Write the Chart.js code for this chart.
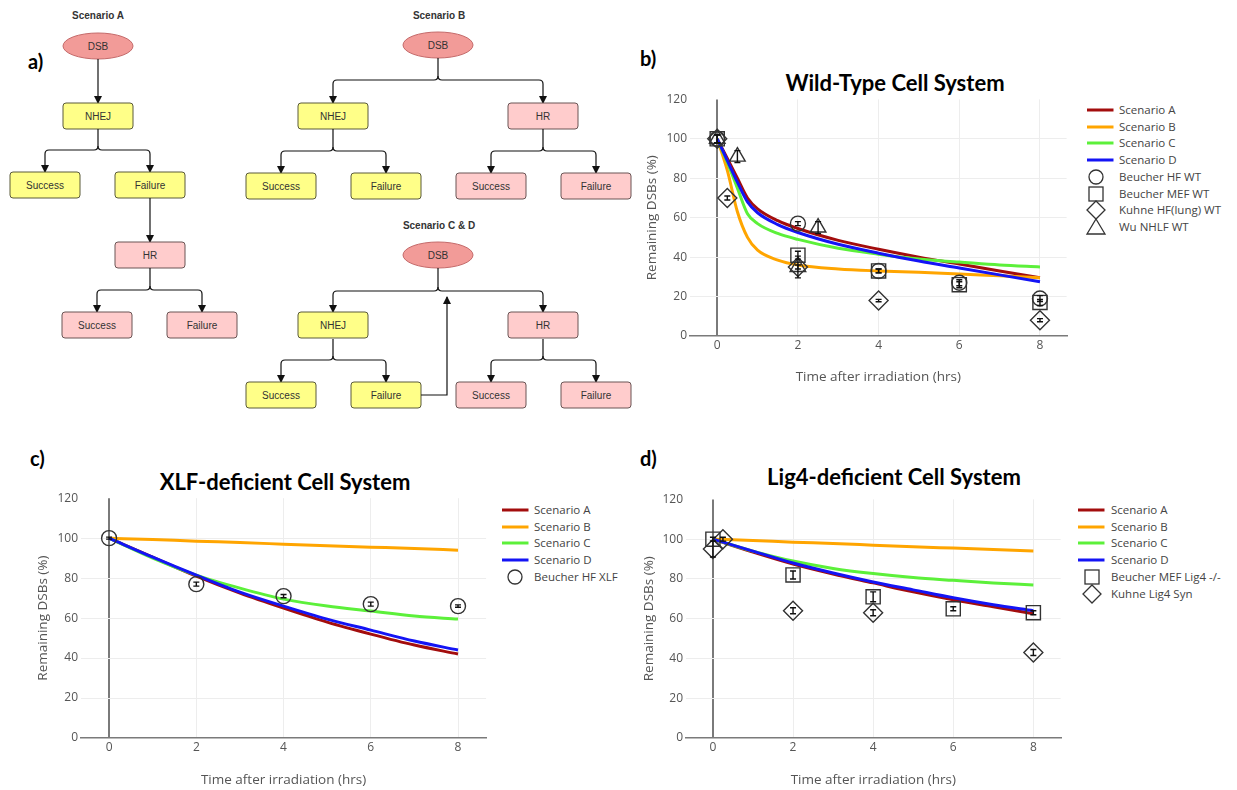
<!DOCTYPE html>
<html>
<head>
<meta charset="utf-8">
<script src="https://cdn.jsdelivr.net/npm/chart.js@4.4.1/dist/chart.umd.min.js"></script>
<style>
  body { margin: 0; background: #fff; }
  #page { position: relative; width: 1237px; height: 790px; overflow: hidden; font-family: "Open Sans", sans-serif; }
  .abs { position: absolute; }
  .panel { font-family: Lato, sans-serif; font-weight: 700; font-size: 20px; line-height: 24px; color: #000; }
  .title { font-family: Lato, sans-serif; font-weight: 700; font-size: 22px; line-height: 26px; text-align: center; width: 400px; color: #000; }
  .leg { font-size: 11.5px; color: #444; line-height: 16px; height: 16px; white-space: nowrap; }
  .leg svg { position: absolute; left: 0; top: 0; }
</style>
</head>
<body>
<div id="page">
  <svg id="flow" class="abs" style="left:0;top:0" width="640" height="420"></svg>

  <div class="abs panel" style="left:28px;top:49px">a)</div>
  <div class="abs panel" style="left:640px;top:46px">b)</div>
  <div class="abs panel" style="left:30px;top:446px">c)</div>
  <div class="abs panel" style="left:640px;top:446px">d)</div>

  <div class="abs title" style="left:695px;top:70px">Wild-Type Cell System</div>
  <div class="abs title" style="left:85px;top:469px">XLF-deficient Cell System</div>
  <div class="abs title" style="left:694px;top:464px">Lig4-deficient Cell System</div>

  <canvas id="chartWT" class="abs" style="left:636px;top:88px" width="442" height="302"></canvas>
  <canvas id="chartXLF" class="abs" style="left:28px;top:488px" width="467" height="302"></canvas>
  <canvas id="chartLig4" class="abs" style="left:634px;top:488px" width="438" height="302"></canvas>
</div>

<script>
// ---- data ----
const xTicks = [0, 2, 4, 6, 8];
const yTicks = [0, 20, 40, 60, 80, 100, 120];

// Wild-type model curves
const wtTime = [0, 0.25, 0.5, 0.75, 1, 1.5, 2, 3, 4, 5, 6, 7, 8];
const wtScenarioA = [100, 90, 80, 70, 64.5, 58.5, 54.5, 48.5, 44, 40, 36.5, 33, 29.5];
const wtScenarioB = [100, 84, 63, 50, 43.5, 38.5, 36, 34, 33, 32.3, 31.5, 30.5, 29.5];
const wtScenarioC = [100, 88, 75, 62, 57, 52, 49, 44.5, 41.5, 39, 37.5, 36, 35];
const wtScenarioD = [100, 89, 78, 68, 62.5, 56.5, 52.5, 46.5, 42, 38, 34.5, 31, 27.5];

// Wild-type experiments
const beucherHFTime = [0, 2, 4, 6, 8];
const beucherHFWT = [100, 57, 33, 27, 19];
const beucherHFWTErr = [2, 1, 1, 1.5, 1.5];
const beucherMEFTime = [0, 2, 4, 6, 8];
const beucherMEFWT = [100, 41, 33, 26, 17];
const beucherMEFWTErr = [2, 2, 1, 1.5, 1.5];
const kuhneHFTime = [0, 0.25, 2, 4, 8];
const kuhneHFWT = [100, 70, 35, 18, 8];
const kuhneHFWTErr = [2, 1, 1, 0.6, 0.8];
const wuNHLFTime = [0, 0.5, 2, 2.5];
const wuNHLFWT = [100, 91, 35, 55];
const wuNHLFWTErr = [2, 3, 5.5, 3];

// XLF-deficient model curves
const defTime = [0, 1, 2, 3, 4, 5, 6, 7, 8];
const xlfScenarioA = [100, 90.5, 81, 72.5, 65, 58, 52, 46.5, 42];
const xlfScenarioB = [100, 99.3, 98.5, 97.8, 97, 96.2, 95.5, 94.8, 94];
const xlfScenarioC = [100, 90, 81.5, 75, 69.5, 66, 63.5, 61, 59.5];
const xlfScenarioD = [100, 90.5, 81.5, 73, 66, 59.5, 54, 48.5, 44];
const beucherXLFTime = [0, 2, 4, 6, 8];
const beucherHFXLF = [100, 77, 71, 67, 66];
const beucherHFXLFErr = [0.5, 1, 0.8, 1, 0.6];

// Lig4-deficient model curves
const lig4ScenarioA = [100, 93.5, 87.5, 82.5, 78, 73.5, 69.5, 66, 62.5];
const lig4ScenarioB = [100, 99.3, 98.5, 97.8, 97, 96.2, 95.5, 94.8, 94];
const lig4ScenarioC = [100, 94, 89, 85.3, 82.7, 80.7, 79.3, 78, 77];
const lig4ScenarioD = [100, 94, 88, 83, 78.5, 74.5, 70.5, 67, 64];
const beucherLig4Time = [0, 2, 4, 6, 8];
const beucherMEFLig4 = [100, 82, 71, 65, 63];
const beucherMEFLig4Err = [1, 2, 2.5, 1, 1];
const kuhneLig4Time = [0, 0.25, 2, 4, 8];
const kuhneLig4Syn = [95, 100, 64, 63, 43];
const kuhneLig4SynErr = [4, 1, 1.5, 1.5, 1.5];

const colA = '#a30d0d', colB = '#ffa500', colC = '#5cf03a', colD = '#1414f5';

// ---- flowchart (panel a) ----
const flow = document.getElementById('flow');
let svg = '<defs><marker id="ah" markerWidth="8" markerHeight="8" refX="7" refY="4" orient="auto" markerUnits="userSpaceOnUse">' +
  '<path d="M0,0 L8,4 L0,8 z" fill="#111"/></marker></defs>';

function box(x, y, text, kind) {
  const fill = kind === 'y' ? '#ffff88' : '#ffcccc';
  const stroke = kind === 'y' ? '#5a5a3a' : '#6a5555';
  svg += `<rect x="${x}" y="${y}" width="70" height="26" rx="3" fill="${fill}" stroke="${stroke}" stroke-width="1"/>`;
  svg += `<text x="${x + 35}" y="${y + 16.5}" text-anchor="middle" font-family="Liberation Sans, Arial" font-size="10" fill="#333">${text}</text>`;
}
function dsb(cx, cy) {
  svg += `<ellipse cx="${cx}" cy="${cy}" rx="35" ry="13" fill="#f29b98" stroke="#c46a6a" stroke-width="1"/>`;
  svg += `<text x="${cx}" y="${cy + 3.5}" text-anchor="middle" font-family="Liberation Sans, Arial" font-size="10" fill="#333">DSB</text>`;
}
function label(cx, y, text) {
  svg += `<text x="${cx}" y="${y}" text-anchor="middle" font-family="Liberation Sans, Arial" font-size="10" font-weight="bold" fill="#333">${text}</text>`;
}
function arrow(x, y1, y2) {
  svg += `<path d="M${x} ${y1} V${y2}" stroke="#111" stroke-width="1.2" fill="none" marker-end="url(#ah)"/>`;
}
// a parent splitting into two children through a rounded bus line
function split(px, py, busY, left, right, top) {
  const r = 4;
  svg += `<path d="M${px} ${py} V${busY - r} Q${px} ${busY} ${px - r} ${busY} H${left + r} Q${left} ${busY} ${left} ${busY + r} V${top}" stroke="#111" stroke-width="1.2" fill="none" marker-end="url(#ah)"/>`;
  svg += `<path d="M${px} ${busY - r} Q${px} ${busY} ${px + r} ${busY} H${right - r} Q${right} ${busY} ${right} ${busY + r} V${top}" stroke="#111" stroke-width="1.2" fill="none" marker-end="url(#ah)"/>`;
}

// Scenario A
label(98, 19, 'Scenario A');
dsb(98, 46);
arrow(98, 59, 103);
box(63, 103, 'NHEJ', 'y');
split(98, 129, 150, 45, 150, 172);
box(10, 172, 'Success', 'y');
box(115, 172, 'Failure', 'y');
arrow(150, 198, 242);
box(115, 242, 'HR', 'p');
split(150, 268, 290, 97, 202, 312);
box(62, 312, 'Success', 'p');
box(167, 312, 'Failure', 'p');

// Scenario B
label(439, 19, 'Scenario B');
dsb(438, 45);
split(438, 58, 80, 333, 543, 103);
box(298, 103, 'NHEJ', 'y');
box(508, 103, 'HR', 'p');
split(333, 129, 151, 281, 386, 173);
split(543, 129, 151, 491, 596, 173);
box(246, 173, 'Success', 'y');
box(351, 173, 'Failure', 'y');
box(456, 173, 'Success', 'p');
box(561, 173, 'Failure', 'p');

// Scenario C & D
label(439, 229, 'Scenario C &amp; D');
dsb(438, 255);
split(438, 268, 291, 333, 543, 312);
box(298, 312, 'NHEJ', 'y');
box(508, 312, 'HR', 'p');
split(333, 339, 360, 281, 386, 382);
split(543, 339, 360, 491, 596, 382);
box(246, 382, 'Success', 'y');
box(351, 382, 'Failure', 'y');
box(456, 382, 'Success', 'p');
box(561, 382, 'Failure', 'p');
svg += '<path d="M421 395 H447 V297" stroke="#111" stroke-width="1.2" fill="none" marker-end="url(#ah)"/>';
flow.innerHTML = svg;

// ---- legends ----
function legend(left, textLeft, markerX, top, items) {
  const page = document.getElementById('page');
  items.forEach((it, i) => {
    const row = document.createElement('div');
    row.className = 'abs leg';
    row.style.left = left + 'px';
    row.style.top = (top + i * 16.7 - 8) + 'px';
    const w = textLeft - left;
    let icon = '';
    const mx = markerX - left;
    if (it.color) icon = `<line x1="0" y1="8" x2="26.5" y2="8" stroke="${it.color}" stroke-width="3"/>`;
    else if (it.marker === 'circle') icon = `<circle cx="${mx}" cy="8" r="7" fill="none" stroke="#333" stroke-width="1.3"/>`;
    else if (it.marker === 'square') icon = `<rect x="${mx - 7}" y="1" width="14" height="14" fill="none" stroke="#333" stroke-width="1.3"/>`;
    else if (it.marker === 'diamond') icon = `<path d="M${mx} -1 L${mx + 9} 8 L${mx} 17 L${mx - 9} 8 z" fill="none" stroke="#333" stroke-width="1.3"/>`;
    else if (it.marker === 'triangle') icon = `<path d="M${mx} 0 L${mx + 9} 15 L${mx - 9} 15 z" fill="none" stroke="#333" stroke-width="1.3"/>`;
    row.innerHTML = `<svg width="${w}" height="18" style="overflow:visible">${icon}</svg><span style="margin-left:${w}px">${it.label}</span>`;
    page.appendChild(row);
  });
}
const scenarioItems = [
  { label: 'Scenario A', color: colA },
  { label: 'Scenario B', color: colB },
  { label: 'Scenario C', color: colC },
  { label: 'Scenario D', color: colD }
];
legend(1087, 1119, 1096, 110, scenarioItems.concat([
  { label: 'Beucher HF WT', marker: 'circle' },
  { label: 'Beucher MEF WT', marker: 'square' },
  { label: 'Kuhne HF(lung) WT', marker: 'diamond' },
  { label: 'Wu NHLF WT', marker: 'triangle' }
]));
legend(502, 534, 515, 510, scenarioItems.concat([
  { label: 'Beucher HF XLF', marker: 'circle' }
]));
legend(1078, 1111, 1092, 510, scenarioItems.concat([
  { label: 'Beucher MEF Lig4 -/-', marker: 'square' },
  { label: 'Kuhne Lig4 Syn', marker: 'diamond' }
]));

// ---- charts ----
const errorBars = {
  id: 'errorBars',
  afterDatasetsDraw(chart) {
    const ctx = chart.ctx, xs = chart.scales.x, ys = chart.scales.y;
    chart.data.datasets.forEach((ds, i) => {
      if (!ds.errors) return;
      ctx.save();
      ctx.strokeStyle = '#111';
      ctx.lineWidth = 1.4;
      ds.data.forEach((p, j) => {
        const e = ds.errors[j];
        const px = xs.getPixelForValue(p.x);
        const top = ys.getPixelForValue(p.y + e), bot = ys.getPixelForValue(p.y - e);
        ctx.beginPath();
        ctx.moveTo(px, top); ctx.lineTo(px, bot);
        ctx.moveTo(px - 3, top); ctx.lineTo(px + 3, top);
        ctx.moveTo(px - 3, bot); ctx.lineTo(px + 3, bot);
        ctx.stroke();
      });
      ctx.restore();
    });
  }
};

function pts(xs, ys) {
  return xs.map((x, i) => ({ x: x, y: ys[i] }));
}
function curve(label, xs, ys, color, order) {
  return {
    label: label, data: pts(xs, ys), showLine: true, borderColor: color, backgroundColor: color,
    borderWidth: 3, pointRadius: 0, cubicInterpolationMode: 'monotone', order: order
  };
}
function marks(label, xs, ys, errs, style, radius) {
  return {
    label: label, data: pts(xs, ys), errors: errs, showLine: false, pointStyle: style,
    pointRadius: radius, borderColor: '#333', backgroundColor: 'rgba(0,0,0,0)', borderWidth: 1.4, order: 0
  };
}

function makeChart(id, datasets, xMin, xMax, yWidth, xHeight, padRight, yTitlePad, xTitlePad) {
  const tickFont = { family: 'Open Sans', size: 12 };
  const titleFont = { family: 'Open Sans', size: 13.5 };
  return new Chart(document.getElementById(id), {
    type: 'scatter',
    data: { datasets: datasets },
    options: {
      responsive: false,
      animation: false,
      layout: { padding: { top: 9, right: padRight, left: 0, bottom: 0 } },
      plugins: { legend: { display: false }, tooltip: { enabled: false } },
      scales: {
        x: {
          type: 'linear', min: xMin, max: xMax,
          afterBuildTicks: s => { s.ticks = xTicks.map(v => ({ value: v })); },
          afterFit: s => { s.height = xHeight; },
          grid: {
            drawTicks: false,
            color: c => c.tick && c.tick.value === 0 ? '#7a7a7a' : '#ededed',
            lineWidth: c => c.tick && c.tick.value === 0 ? 2 : 1
          },
          border: { display: true, color: '#7a7a7a', width: 1.5 },
          ticks: { padding: 2, color: '#555', font: tickFont },
          title: { display: true, text: 'Time after irradiation (hrs)', color: '#555', font: titleFont, padding: { top: 0, bottom: xTitlePad } }
        },
        y: {
          min: 0, max: 120,
          afterBuildTicks: s => { s.ticks = yTicks.map(v => ({ value: v })); },
          afterFit: s => { s.width = yWidth; },
          grid: {
            drawTicks: false,
            color: c => c.tick && (c.tick.value === 0 || c.tick.value === 120) ? 'rgba(0,0,0,0)' : '#ededed'
          },
          border: { display: false },
          ticks: { padding: 3, color: '#555', font: tickFont },
          title: { display: true, text: 'Remaining DSBs (%)', color: '#555', font: titleFont, padding: { top: yTitlePad, bottom: 0 } }
        }
      }
    },
    plugins: [errorBars]
  });
}

// b) wild-type
makeChart('chartWT', [
  curve('Scenario A', wtTime, wtScenarioA, colA, 4),
  curve('Scenario B', wtTime, wtScenarioB, colB, 3),
  curve('Scenario C', wtTime, wtScenarioC, colC, 2),
  curve('Scenario D', wtTime, wtScenarioD, colD, 1),
  marks('Beucher HF WT', beucherHFTime, beucherHFWT, beucherHFWTErr, 'circle', 7.5),
  marks('Beucher MEF WT', beucherMEFTime, beucherMEFWT, beucherMEFWTErr, 'rect', 10),
  marks('Kuhne HF(lung) WT', kuhneHFTime, kuhneHFWT, kuhneHFWTErr, 'rectRot', 9.5),
  marks('Wu NHLF WT', wuNHLFTime, wuNHLFWT, wuNHLFWTErr, 'triangle', 9)
], -0.675, 8.66, 54, 54, 5, 8, 5);

// c) XLF-deficient
makeChart('chartXLF', [
  curve('Scenario A', defTime, xlfScenarioA, colA, 4),
  curve('Scenario B', defTime, xlfScenarioB, colB, 3),
  curve('Scenario C', defTime, xlfScenarioC, colC, 2),
  curve('Scenario D', defTime, xlfScenarioD, colD, 1),
  marks('Beucher HF XLF', beucherXLFTime, beucherHFXLF, beucherHFXLFErr, 'circle', 7.5)
], -0.644, 8.644, 53, 52, 6, 7, 2);

// d) Lig4-deficient
makeChart('chartLig4', [
  curve('Scenario A', defTime, lig4ScenarioA, colA, 4),
  curve('Scenario B', defTime, lig4ScenarioB, colB, 3),
  curve('Scenario C', defTime, lig4ScenarioC, colC, 2),
  curve('Scenario D', defTime, lig4ScenarioD, colD, 1),
  marks('Beucher MEF Lig4 -/-', beucherLig4Time, beucherMEFLig4, beucherMEFLig4Err, 'rect', 10),
  marks('Kuhne Lig4 Syn', kuhneLig4Time, kuhneLig4Syn, kuhneLig4SynErr, 'rectRot', 9.5)
], -0.672, 8.68, 52, 52, 6, 7, 2);
</script>
</body>
</html>
